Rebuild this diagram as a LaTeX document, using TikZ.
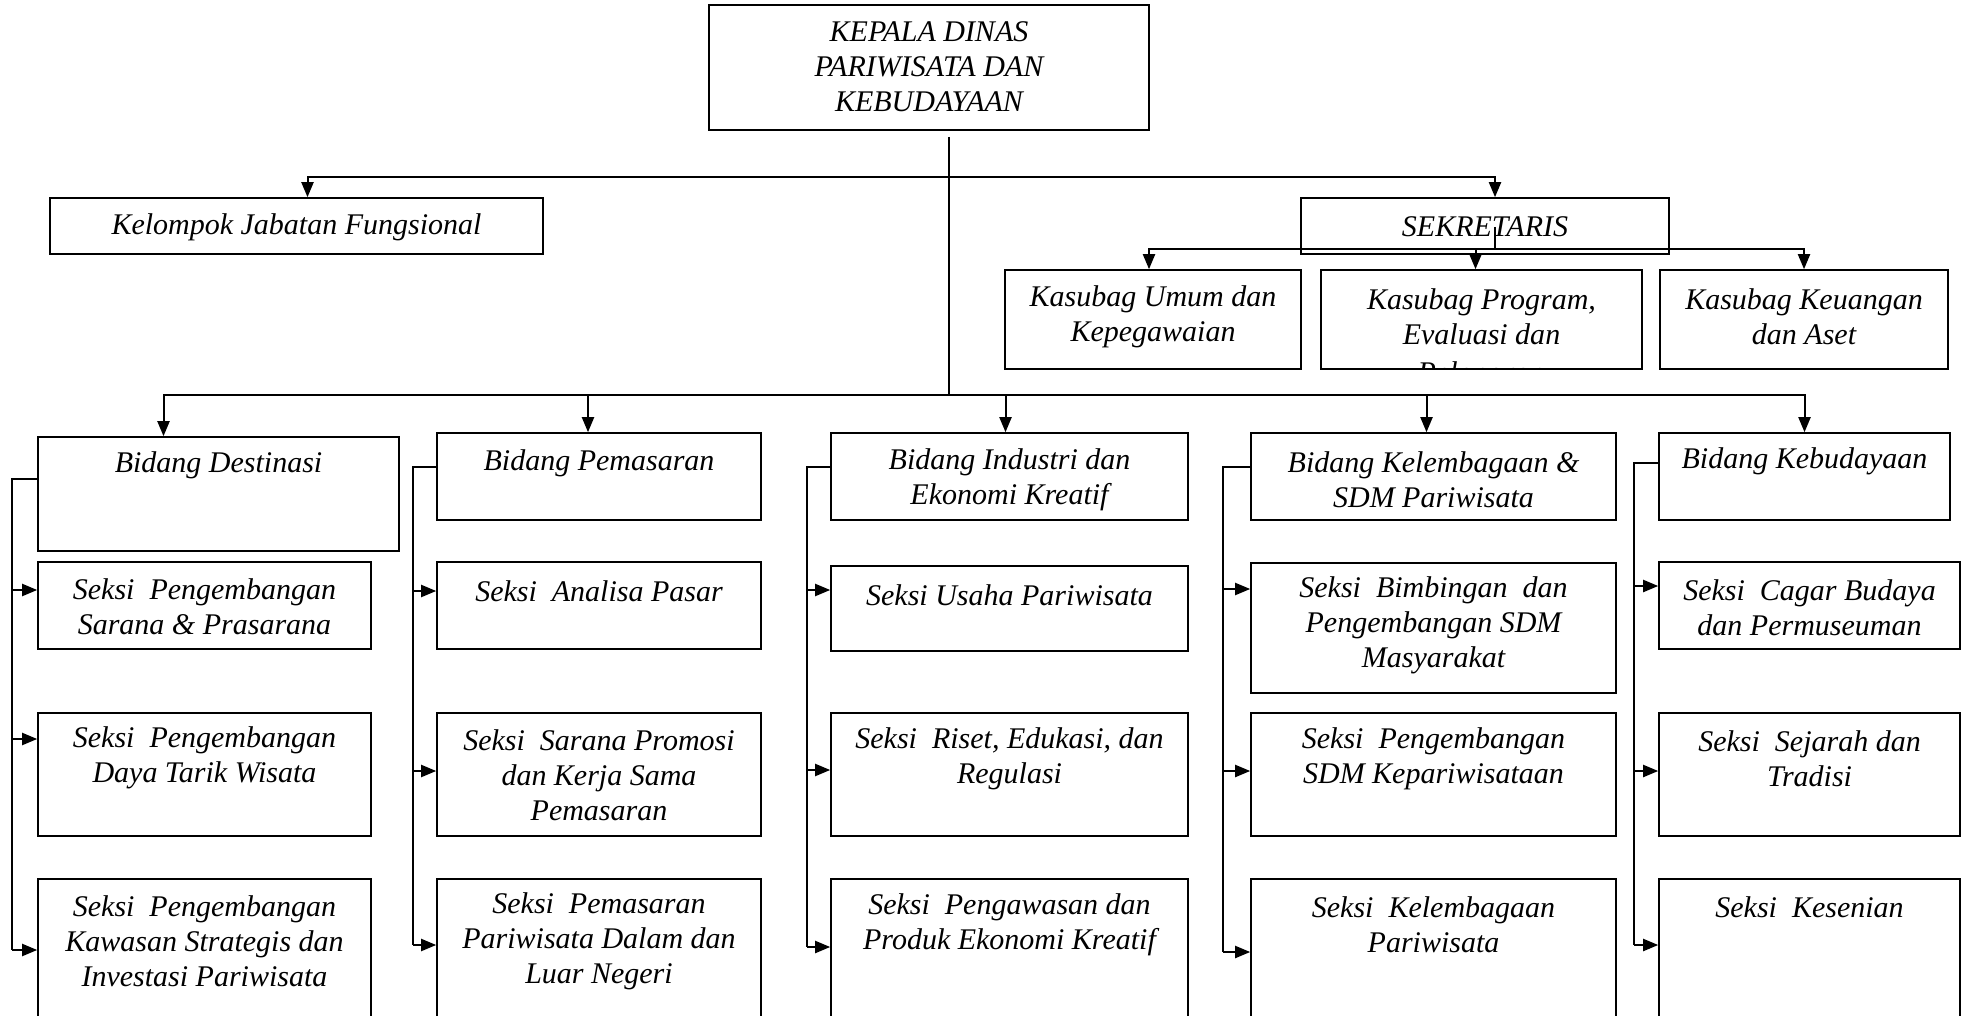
\documentclass[tikz,border=0pt]{standalone}
\usepackage{fontspec}
\setmainfont{Liberation Serif}
\usetikzlibrary{arrows.meta,calc}
\tikzset{
  obox/.style={draw=black, line width=0.8pt, rectangle, inner sep=0pt},
  otext/.style={font=\itshape\fontsize{15}{17.5}\selectfont, align=center, inner sep=0pt},
  conn/.style={draw=black, line width=1pt},
  arr/.style={conn, -{Triangle[length=7.5pt,width=6pt]}},
}
% name, x1, y1, x2, y2, mean text y, text
\newcommand\orgbox[7]{%
  \node[obox, minimum width={(#4-#2)*0.5pt}, minimum height={(#5-#3)*0.5pt}] (#1) at ({(#2+#4)/2},{(#3+#5)/2}) {};
  \node[otext] (#1t) at ({(#2+#4)/2},#6) {#7};}
\begin{document}
\begin{tikzpicture}[x=0.5pt,y=-0.5pt]
\useasboundingbox (0,0) rectangle (1963,1016);
% top level
\orgbox{kepala}{709}{5}{1149}{130}{67}{KEPALA DINAS\\PARIWISATA DAN\\KEBUDAYAAN}
\orgbox{kjf}{50}{198}{543}{254}{227}{Kelompok Jabatan Fungsional}
\orgbox{sek}{1301}{198}{1669}{254}{227}{SEKRETARIS}
\orgbox{ku}{1005}{270}{1301}{369}{316.5}{Kasubag Umum dan\\Kepegawaian}
\orgbox{kp}{1321}{270}{1642}{369}{316.5}{Kasubag Program,\\Evaluasi dan}
\orgbox{kk}{1660}{270}{1948}{369}{316.5}{Kasubag Keuangan\\dan Aset}
\begin{scope}
  \clip (kp.south west) rectangle (kp.north east);
  \node[otext, anchor=base] (kpt3) at (1481,382) {Pelaporan};
\end{scope}
% column 1
\orgbox{bd}{38}{437}{399}{551}{465}{Bidang Destinasi}
\orgbox{s11}{38}{562}{371}{649}{606.5}{Seksi~ Pengembangan\\Sarana \& Prasarana}
\orgbox{s12}{38}{713}{371}{836}{757.5}{Seksi~ Pengembangan\\Daya Tarik Wisata}
\orgbox{s13}{38}{879}{371}{1040}{941}{Seksi~ Pengembangan\\Kawasan Strategis dan\\Investasi Pariwisata}
% column 2
\orgbox{bp}{437}{433}{761}{520}{463}{Bidang Pemasaran}
\orgbox{s21}{437}{562}{761}{649}{591}{Seksi~ Analisa Pasar}
\orgbox{s22}{437}{713}{761}{836}{775}{Seksi~ Sarana Promosi\\dan Kerja Sama\\Pemasaran}
\orgbox{s23}{437}{879}{761}{1040}{941.5}{Seksi~ Pemasaran\\Pariwisata Dalam dan\\Luar Negeri}
% column 3
\orgbox{bi}{831}{433}{1188}{520}{479.5}{Bidang Industri dan\\Ekonomi Kreatif}
\orgbox{s31}{831}{566}{1188}{651}{595}{Seksi Usaha Pariwisata}
\orgbox{s32}{831}{713}{1188}{836}{758.5}{Seksi~ Riset, Edukasi, dan\\Regulasi}
\orgbox{s33}{831}{879}{1188}{1040}{924.5}{Seksi~ Pengawasan dan\\Produk Ekonomi Kreatif}
% column 4
\orgbox{bk}{1251}{433}{1616}{520}{479.5}{Bidang Kelembagaan \&\\SDM Pariwisata}
\orgbox{s41}{1251}{563}{1616}{693}{625.5}{Seksi~ Bimbingan~ dan\\Pengembangan SDM\\Masyarakat}
\orgbox{s42}{1251}{713}{1616}{836}{758.5}{Seksi~ Pengembangan\\SDM Kepariwisataan}
\orgbox{s43}{1251}{879}{1616}{1040}{924.5}{Seksi~ Kelembagaan\\Pariwisata}
% column 5
\orgbox{bb}{1659}{433}{1950}{520}{461}{Bidang Kebudayaan}
\orgbox{s51}{1659}{562}{1960}{649}{608}{Seksi~ Cagar Budaya\\dan Permuseuman}
\orgbox{s52}{1659}{713}{1960}{836}{758.5}{Seksi~ Sejarah dan\\Tradisi}
\orgbox{s53}{1659}{879}{1960}{1040}{907}{Seksi~ Kesenian}
% main trunk
\coordinate (t0) at (949,137);
\coordinate (h1) at (949,177);
\coordinate (t1) at (949,395);
\draw[conn] (t0) -- (t1);
\draw[arr] (h1) -| ($(kjf.north)+(11,0)$);
\draw[arr] (h1) -| ($(sek.north)+(10,0)$);
% sekretaris branch
\coordinate (sc0) at (1495,227);
\coordinate (sc1) at (1495,249);
\draw[conn] (sc0) -- (sc1);
\draw[arr] (sc1) -| ($(ku.north)+(-4,0)$);
\draw[arr] (sc1) -| ($(kp.north)+(-6,0)$);
\draw[arr] (sc1) -| (kk.north);
% lower branch
\draw[arr] (t1) -| ($(bd.north)+(-55,0)$);
\draw[arr] (t1) -| ($(bp.north)+(-11,0)$);
\draw[arr] (t1) -| ($(bi.north)+(-4,0)$);
\draw[arr] (t1) -| ($(bk.north)+(-7,0)$);
\draw[arr] (t1) -| (bb.north);
% column connectors
\coordinate (v1) at (12,479);
\coordinate (a11) at (12,590);
\coordinate (a12) at (12,739);
\coordinate (a13) at (12,950);
\draw[conn] (bd.west |- v1) -- (v1) -- (a13);
\draw[arr] (a11) -- (a11 -| s11.west);
\draw[arr] (a12) -- (a12 -| s12.west);
\draw[arr] (a13) -- (a13 -| s13.west);
\coordinate (v2) at (413,467);
\coordinate (a21) at (413,591);
\coordinate (a22) at (413,771);
\coordinate (a23) at (413,945);
\draw[conn] (bp.west |- v2) -- (v2) -- (a23);
\draw[arr] (a21) -- (a21 -| s21.west);
\draw[arr] (a22) -- (a22 -| s22.west);
\draw[arr] (a23) -- (a23 -| s23.west);
\coordinate (v3) at (807,467);
\coordinate (a31) at (807,590);
\coordinate (a32) at (807,770);
\coordinate (a33) at (807,947);
\draw[conn] (bi.west |- v3) -- (v3) -- (a33);
\draw[arr] (a31) -- (a31 -| s31.west);
\draw[arr] (a32) -- (a32 -| s32.west);
\draw[arr] (a33) -- (a33 -| s33.west);
\coordinate (v4) at (1223,467);
\coordinate (a41) at (1223,589);
\coordinate (a42) at (1223,771);
\coordinate (a43) at (1223,952);
\draw[conn] (bk.west |- v4) -- (v4) -- (a43);
\draw[arr] (a41) -- (a41 -| s41.west);
\draw[arr] (a42) -- (a42 -| s42.west);
\draw[arr] (a43) -- (a43 -| s43.west);
\coordinate (v5) at (1634,463);
\coordinate (a51) at (1634,586);
\coordinate (a52) at (1634,771);
\coordinate (a53) at (1634,945);
\draw[conn] (bb.west |- v5) -- (v5) -- (a53);
\draw[arr] (a51) -- (a51 -| s51.west);
\draw[arr] (a52) -- (a52 -| s52.west);
\draw[arr] (a53) -- (a53 -| s53.west);
\end{tikzpicture}
\end{document}
